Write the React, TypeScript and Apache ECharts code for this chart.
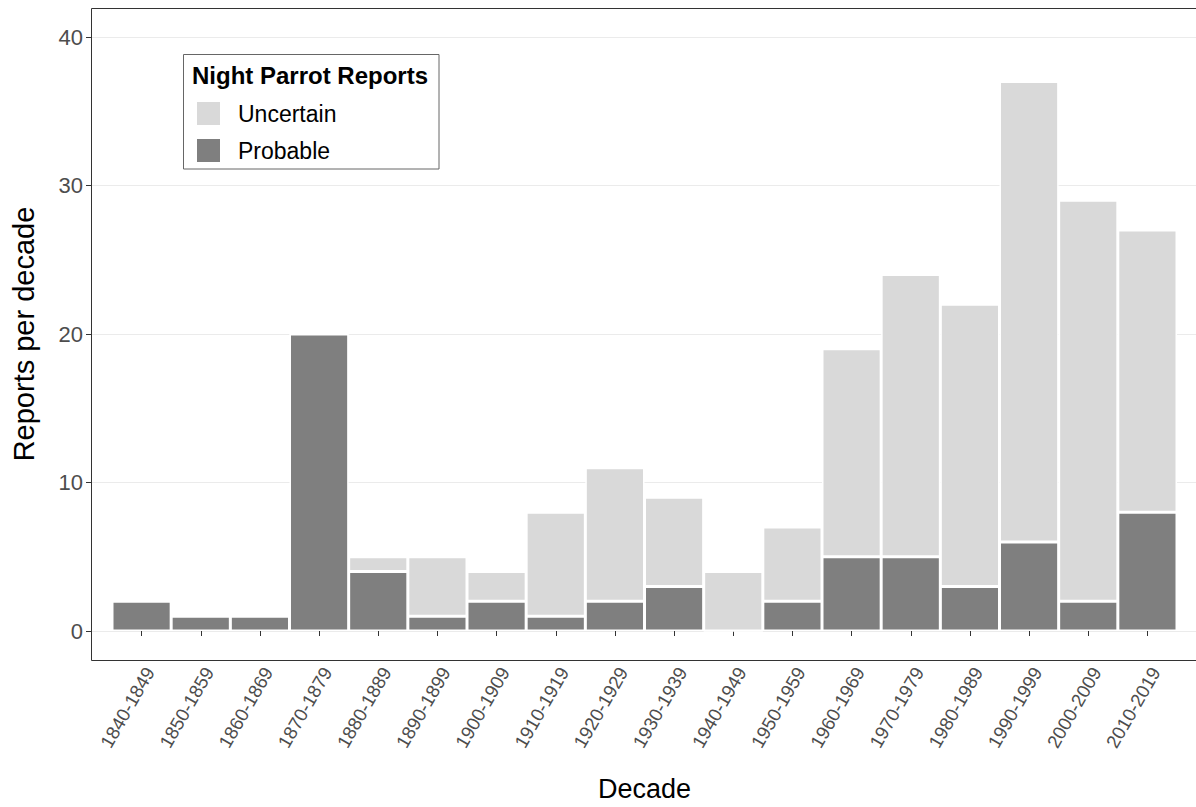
import React, { useEffect, useRef } from 'react';
import * as echarts from 'echarts';

const decades = [
  '1840-1849', '1850-1859', '1860-1869', '1870-1879', '1880-1889', '1890-1899',
  '1900-1909', '1910-1919', '1920-1929', '1930-1939', '1940-1949', '1950-1959',
  '1960-1969', '1970-1979', '1980-1989', '1990-1999', '2000-2009', '2010-2019',
];
const probable = [2, 1, 1, 20, 4, 1, 2, 1, 2, 3, 0, 2, 5, 5, 3, 6, 2, 8];
const uncertain = [0, 0, 0, 0, 1, 4, 2, 7, 9, 6, 4, 5, 14, 19, 19, 31, 27, 19];
const yMin = 0;
const yMax = 40;
const yStep = 10;
const legendTitle = 'Night Parrot Reports';
const legendNames = ['Uncertain', 'Probable'];

const FONT = "'Liberation Sans', Arial, sans-serif";

export default function App() {
  const ref = useRef<HTMLDivElement>(null);
  useEffect(() => {
    if (!ref.current) return;
    const chart = echarts.init(ref.current, null, { renderer: 'svg' });
    chart.setOption({
      animation: false,
      backgroundColor: '#ffffff',
      textStyle: { fontFamily: FONT },
      grid: [
        { left: 91, right: 0, top: 37, bottom: 176 },
        { left: 112, right: 19, top: 37, bottom: 176 },
      ],
      xAxis: [
        { type: 'value', gridIndex: 0, min: 0, max: 1, show: false },
        {
          type: 'category',
          gridIndex: 1,
          data: decades,
          offset: 29,
          axisLine: { show: false },
          axisTick: { show: true, alignWithLabel: true, length: 5, lineStyle: { color: '#333333' } },
          axisLabel: {
            rotate: 60,
            interval: 0,
            fontSize: 18.7,
            color: '#4d4d4d',
            margin: 4,
            fontFamily: FONT,
            verticalAlign: 'top',
          },
          splitLine: { show: false },
          name: 'Decade',
          nameLocation: 'middle',
          nameGap: 115,
          nameTextStyle: { fontSize: 27, color: '#000000', fontFamily: FONT },
        },
      ],
      yAxis: [
        {
          type: 'value',
          gridIndex: 0,
          min: yMin,
          max: yMax,
          interval: yStep,
          axisLine: { show: false },
          axisTick: { show: true, length: 5, lineStyle: { color: '#333333' } },
          axisLabel: { fontSize: 22, color: '#4d4d4d', margin: 8, fontFamily: FONT },
          splitLine: { show: true, lineStyle: { color: '#ebebeb', width: 1 } },
          name: 'Reports per decade',
          nameLocation: 'middle',
          nameGap: 53,
          nameTextStyle: { fontSize: 29, color: '#000000', fontFamily: FONT },
        },
        { type: 'value', gridIndex: 1, min: yMin, max: yMax, show: false },
      ],
      legend: {
        data: legendNames,
        orient: 'vertical',
        left: 195,
        top: 100,
        padding: 0,
        itemWidth: 25,
        itemHeight: 25,
        itemGap: 10,
        icon: 'rect',
        selectedMode: false,
        z: 10,
        textStyle: { fontSize: 23, color: '#000000', fontFamily: FONT, padding: [0, 0, 0, 12] },
      },
      graphic: [
        {
          type: 'rect',
          silent: true,
          z: 1,
          shape: { x: 183.5, y: 54.5, width: 255.5, height: 114.5 },
          style: { fill: '#ffffff', stroke: '#666666', lineWidth: 1 },
        },
        {
          type: 'text',
          silent: true,
          z: 11,
          x: 192,
          y: 75,
          style: {
            text: legendTitle,
            fill: '#000000',
            font: `bold 24px ${FONT}`,
            verticalAlign: 'middle',
            align: 'left',
          },
        },
        {
          type: 'rect',
          silent: true,
          z: 20,
          shape: { x: 91.5, y: 8.5, width: 1110, height: 652 },
          style: { fill: 'none', stroke: '#333333', lineWidth: 1 },
        },
      ],
      series: [
        {
          name: 'Probable',
          type: 'bar',
          stack: 'total',
          xAxisIndex: 1,
          yAxisIndex: 1,
          data: probable,
          barWidth: '100%',
          barCategoryGap: 0,
          itemStyle: { color: '#7f7f7f', borderColor: '#ffffff', borderWidth: 1.5 },
        },
        {
          name: 'Uncertain',
          type: 'bar',
          stack: 'total',
          xAxisIndex: 1,
          yAxisIndex: 1,
          data: uncertain,
          barWidth: '100%',
          barCategoryGap: 0,
          itemStyle: { color: '#d9d9d9', borderColor: '#ffffff', borderWidth: 1.5 },
        },
      ],
    });
    return () => chart.dispose();
  }, []);
  return (
    <div
      ref={ref}
      style={{ position: 'fixed', left: 0, top: 0, width: 1196, height: 807 }}
    />
  );
}
